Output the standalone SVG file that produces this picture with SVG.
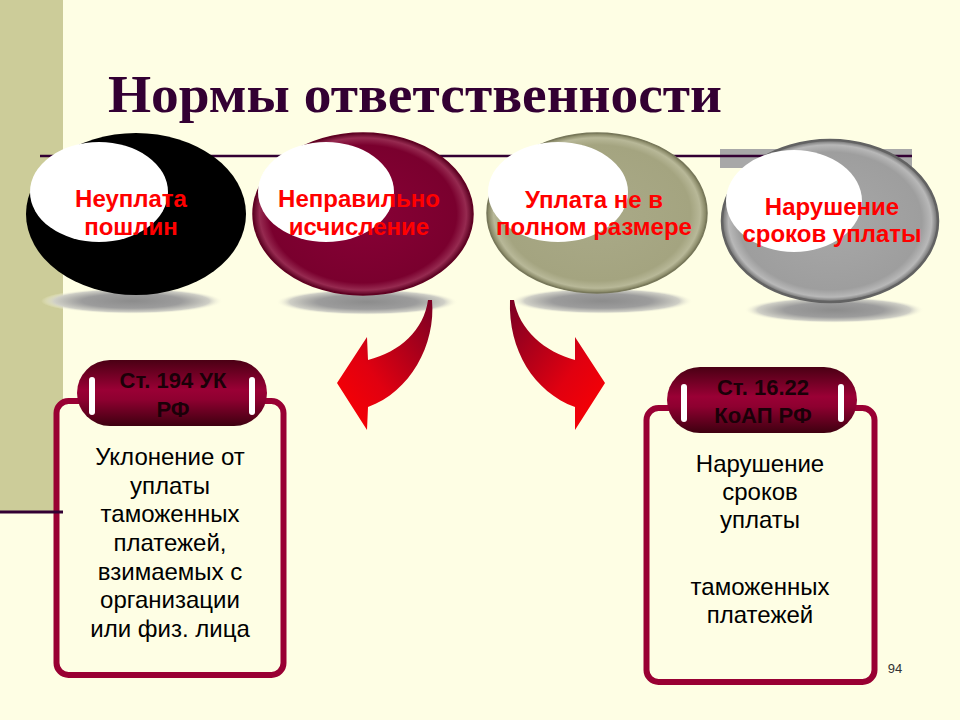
<svg xmlns="http://www.w3.org/2000/svg" width="960" height="720" viewBox="0 0 960 720">
<defs>
<style>
.ttl{font-family:"Liberation Serif","Times New Roman",serif;font-weight:bold;font-size:53px;fill:#330033}
.lbl{font-family:"Liberation Sans",Arial,sans-serif;font-weight:bold;font-size:24px;fill:#ff0000;text-anchor:middle}
.tab{font-family:"Liberation Sans",Arial,sans-serif;font-weight:bold;font-size:22px;fill:#1a0008;text-anchor:middle}
.body{font-family:"Liberation Sans",Arial,sans-serif;font-size:24px;fill:#000;text-anchor:middle}
.hl{fill:#ffffff}
.box{fill:#fefee4;stroke:#990033;stroke-width:6}
.slit{fill:#ffffff}
</style>
<radialGradient id="gShadow" cx="0.5" cy="0.5" r="0.5">
<stop offset="0" stop-color="#8c8c8c"/>
<stop offset="0.55" stop-color="#9c9c9c"/>
<stop offset="0.85" stop-color="#cfcfc6"/>
<stop offset="1" stop-color="#fefee4" stop-opacity="0"/>
</radialGradient>
<radialGradient id="gMaroon" cx="0.5" cy="0.5" r="0.5">
<stop offset="0" stop-color="#880036"/>
<stop offset="0.85" stop-color="#7a002e"/>
<stop offset="0.94" stop-color="#962a50"/>
<stop offset="1" stop-color="#5a0020"/>
</radialGradient>
<radialGradient id="gOlive" cx="0.5" cy="0.5" r="0.5">
<stop offset="0" stop-color="#aaaa88"/>
<stop offset="0.85" stop-color="#a4a480"/>
<stop offset="0.94" stop-color="#b8b898"/>
<stop offset="1" stop-color="#7c7c5a"/>
</radialGradient>
<radialGradient id="gGray" cx="0.5" cy="0.5" r="0.5">
<stop offset="0" stop-color="#a8a8a8"/>
<stop offset="0.85" stop-color="#9e9e9e"/>
<stop offset="0.94" stop-color="#b8b8b8"/>
<stop offset="1" stop-color="#6a6a6a"/>
</radialGradient>
<linearGradient id="gPill" x1="0" y1="0" x2="0" y2="1">
<stop offset="0" stop-color="#4a0014"/>
<stop offset="0.45" stop-color="#9a0035"/>
<stop offset="0.6" stop-color="#8e0030"/>
<stop offset="1" stop-color="#3e0010"/>
</linearGradient>
<linearGradient id="gArrowL" x1="1" y1="0" x2="0" y2="1">
<stop offset="0" stop-color="#7a0024"/>
<stop offset="0.6" stop-color="#e00010"/>
<stop offset="1" stop-color="#ff0000"/>
</linearGradient>
<linearGradient id="gArrowR" x1="0" y1="0" x2="1" y2="1">
<stop offset="0" stop-color="#7a0024"/>
<stop offset="0.6" stop-color="#e00010"/>
<stop offset="1" stop-color="#ff0000"/>
</linearGradient>
</defs>

<rect x="0" y="0" width="960" height="720" fill="#fefee4"/>
<rect x="0" y="0" width="63" height="512" fill="#cccc99"/>
<rect x="720" y="149" width="192" height="19" fill="#a8a8a8"/>
<line x1="40" y1="156" x2="912" y2="156" stroke="#330033" stroke-width="2.5"/>

<text class="ttl" x="108" y="112" textLength="614" lengthAdjust="spacingAndGlyphs">Нормы ответственности</text>

<g id="node-neuplata">
<ellipse cx="132" cy="301" rx="91" ry="13" fill="url(#gShadow)"/>
<ellipse cx="136" cy="214" rx="110" ry="81" fill="#000000"/>
<ellipse class="hl" cx="99" cy="192" rx="69" ry="50"/>
<text class="lbl" x="131" y="207">Неуплата</text>
<text class="lbl" x="131" y="235">пошлин</text>
</g>

<g id="node-nepravilno">
<ellipse cx="367" cy="302" rx="91" ry="13" fill="url(#gShadow)"/>
<ellipse cx="363" cy="214" rx="110" ry="81" fill="url(#gMaroon)" stroke="#600022" stroke-width="1.5"/>
<ellipse class="hl" cx="326" cy="192" rx="68" ry="50"/>
<text class="lbl" x="359" y="207">Неправильно</text>
<text class="lbl" x="359" y="235">исчисление</text>
</g>

<g id="node-uplata">
<ellipse cx="602" cy="301" rx="91" ry="13" fill="url(#gShadow)"/>
<ellipse cx="597" cy="213" rx="110" ry="80" fill="url(#gOlive)" stroke="#77775a" stroke-width="1.5"/>
<ellipse class="hl" cx="558" cy="192" rx="70" ry="50"/>
<text class="lbl" x="594" y="208">Уплата не в</text>
<text class="lbl" x="594" y="235">полном размере</text>
</g>

<g id="node-narushenie">
<ellipse cx="834" cy="310" rx="90" ry="13" fill="url(#gShadow)"/>
<ellipse cx="830" cy="221" rx="108" ry="81" fill="url(#gGray)" stroke="#626262" stroke-width="2.5"/>
<ellipse class="hl" cx="794" cy="201" rx="68" ry="51"/>
<text class="lbl" x="832" y="215">Нарушение</text>
<text class="lbl" x="832" y="242">сроков уплаты</text>
</g>

<g id="connectors">
<path d="M432,300 C436,345 410,392 368,407 L367,430 L337,383 L367,337 L368,360 C400,352 424,330 428,300 Z" fill="url(#gArrowL)"/>
<path d="M510,300 C508,350 534,392 575,407 L575,430 L605,383 L575,337 L575,360 C545,352 519,330 514,300 Z" fill="url(#gArrowR)"/>
</g>

<g id="box-194">
<rect class="box" x="56.5" y="401" width="227" height="274" rx="12"/>
<rect x="77" y="360" width="190" height="66" rx="33" fill="url(#gPill)"/>
<rect class="slit" x="89" y="377" width="6" height="38" rx="3"/>
<rect class="slit" x="249" y="377" width="6" height="38" rx="3"/>
<text class="tab" x="173" y="388">Ст. 194 УК</text>
<text class="tab" x="173" y="417">РФ</text>
<text class="body" x="170" y="465">Уклонение от</text>
<text class="body" x="170" y="494">уплаты</text>
<text class="body" x="170" y="522">таможенных</text>
<text class="body" x="170" y="551">платежей,</text>
<text class="body" x="170" y="580">взимаемых с</text>
<text class="body" x="170" y="608">организации</text>
<text class="body" x="170" y="637">или физ. лица</text>
</g>

<line x1="0" y1="512" x2="63" y2="512" stroke="#330033" stroke-width="3"/>

<g id="box-1622">
<rect class="box" x="646.5" y="408" width="228" height="274" rx="12"/>
<rect x="667" y="367" width="190" height="66" rx="33" fill="url(#gPill)"/>
<rect class="slit" x="681" y="384" width="6" height="38" rx="3"/>
<rect class="slit" x="838" y="384" width="6" height="38" rx="3"/>
<text class="tab" x="763" y="395">Ст. 16.22</text>
<text class="tab" x="763" y="423">КоАП РФ</text>
<text class="body" x="760" y="472">Нарушение</text>
<text class="body" x="760" y="500">сроков</text>
<text class="body" x="760" y="528">уплаты</text>
<text class="body" x="760" y="595">таможенных</text>
<text class="body" x="760" y="623">платежей</text>
</g>

<text x="895" y="673" font-family="'Liberation Sans Narrow','Liberation Sans',Arial,sans-serif" font-size="13" fill="#333333" text-anchor="middle">94</text>
</svg>
